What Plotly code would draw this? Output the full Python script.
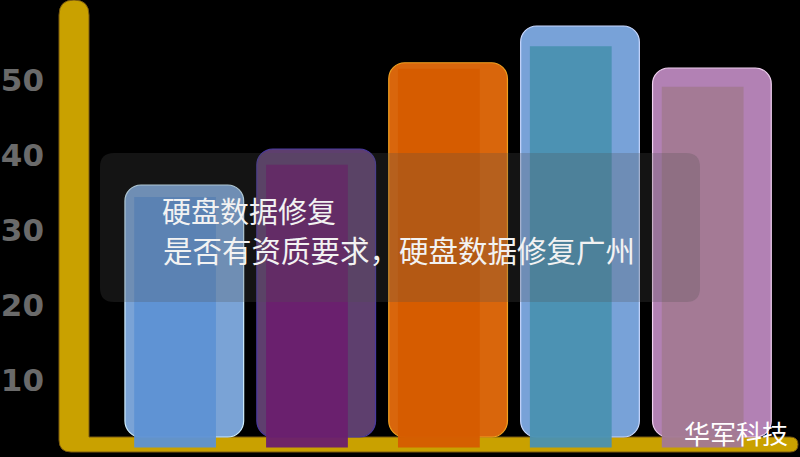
import plotly.graph_objects as go

# ---- data ----
categories = ["A", "B", "C", "D", "E"]
outer_values = [36.0, 40.8, 52.3, 57.2, 51.6]
inner_values = [34.4, 38.7, 51.5, 54.5, 49.1]
tick_values = [10, 20, 30, 40, 50]
tick_labels = ["10", "20", "30", "40", "50"]
title_line1 = "硬盘数据修复"
title_line2 = "是否有资质要求，硬盘数据修复广州"
watermark = "华军科技"

# ---- styles ----
outer_colors = ["#7AA3D6", "#5E3F6E", "#D9660C", "#78A2D8", "#B281B4"]
outer_lines = ["#CFEFFF", "#4A3AA0", "#F0A020", "#C8D8FF", "#F0D0F0"]
inner_colors = ["#5E92D4", "#6B1F6E", "#D65C00", "#4A92B2", "#A47A94"]
W, H = 800, 457
L = 58
xs = list(range(len(categories)))

def px(x):
    return (x - L) / (W - L)

def py(y):
    return (H - y) / H

fig = go.Figure()
fig.add_trace(go.Bar(
    x=xs, y=[v - 2.4 for v in outer_values], base=2.4,
    width=0.90, offset=-0.45,
    marker=dict(color=outer_colors, cornerradius=16,
                line=dict(color=outer_lines, width=1.2)),
    hoverinfo="skip", showlegend=False,
))
fig.add_trace(go.Bar(
    x=xs, y=[v - 1.0 for v in inner_values], base=1.0,
    width=0.62, offset=-0.38,
    marker=dict(color=inner_colors, line=dict(width=0)),
    opacity=0.95,
    hoverinfo="skip", showlegend=False,
))

# yellow axis frame
path = (
    f"M {px(59)},{py(15)} Q {px(59)},{py(0)} {px(74)},{py(0)} "
    f"Q {px(89)},{py(0)} {px(89)},{py(15)} "
    f"L {px(89)},{py(437)} L {px(790)},{py(437)} "
    f"Q {px(798)},{py(437)} {px(798)},{py(444.5)} "
    f"Q {px(798)},{py(452)} {px(790)},{py(452)} "
    f"L {px(71)},{py(452)} Q {px(59)},{py(452)} {px(59)},{py(440)} Z"
)

def rounded_rect(x0, y0, x1, y1, r):
    return (
        f"M {px(x0 + r)},{py(y0)} L {px(x1 - r)},{py(y0)} "
        f"Q {px(x1)},{py(y0)} {px(x1)},{py(y0 + r)} "
        f"L {px(x1)},{py(y1 - r)} Q {px(x1)},{py(y1)} {px(x1 - r)},{py(y1)} "
        f"L {px(x0 + r)},{py(y1)} Q {px(x0)},{py(y1)} {px(x0)},{py(y1 - r)} "
        f"L {px(x0)},{py(y0 + r)} Q {px(x0)},{py(y0)} {px(x0 + r)},{py(y0)} Z"
    )

shapes = [
    dict(type="path", xref="paper", yref="paper", path=path,
         fillcolor="#C9A100", line=dict(color="#7A5A10", width=1), layer="below"),
    dict(type="path", xref="paper", yref="paper",
         path=rounded_rect(100, 153, 700, 302, 14),
         fillcolor="rgba(80,80,80,0.25)", line=dict(width=0), layer="above"),
]

annotations = [
    dict(xref="paper", yref="paper", x=px(160), y=py(210), text=title_line1,
         showarrow=False, xanchor="left", yanchor="middle",
         font=dict(family="Noto Sans CJK SC", size=29, color="#F2F2F2")),
    dict(xref="paper", yref="paper", x=px(161), y=py(249), text=title_line2,
         showarrow=False, xanchor="left", yanchor="middle",
         font=dict(family="Noto Sans CJK SC", size=29.5, color="#F2F2F2")),
    dict(xref="paper", yref="paper", x=px(682), y=py(432), text=watermark,
         showarrow=False, xanchor="left", yanchor="middle",
         font=dict(family="Noto Sans CJK SC", size=26, color="#FFFFFF")),
]

fig.update_layout(
    width=W, height=H,
    margin=dict(l=L, r=0, t=0, b=0),
    paper_bgcolor="#000000", plot_bgcolor="#000000",
    barmode="overlay",
    shapes=shapes, annotations=annotations,
    xaxis=dict(range=[(L - 184.3) / 131.9, (W - 184.3) / 131.9], visible=False, fixedrange=True),
    yaxis=dict(range=[(455 - H) / 7.5, 455 / 7.5], tickvals=tick_values, ticktext=tick_labels,
               showgrid=False, zeroline=False, showline=False, ticks="",
               ticklabelstandoff=13, fixedrange=True,
               tickfont=dict(family="DejaVu Sans", size=31, color="#6A6A6A", weight="bold")),
)

fig.write_html("out.html", config={"displayModeBar": False},
               post_script="document.body.style.margin='0';document.body.style.background='#000';")
